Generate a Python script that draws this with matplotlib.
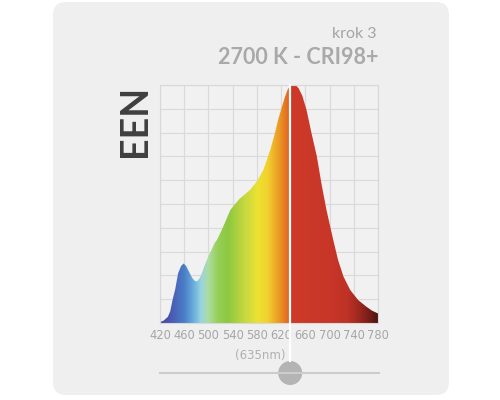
import numpy as np
import matplotlib.pyplot as plt
from matplotlib.colors import LinearSegmentedColormap
from matplotlib.patches import Polygon, FancyBboxPatch, Circle

plt.rcParams['font.family'] = ['Lato', 'DejaVu Sans']

# spectrum (nm, relative intensity)
wavelength = [420, 426, 433, 437, 441, 445, 450, 455, 459, 463, 467, 473, 477, 481,
              486, 490, 494, 500, 505, 510, 514, 520, 527, 536, 544, 552, 560, 569,
              580, 591, 602, 609, 615, 621, 626, 631, 635, 641, 645, 649, 655, 662,
              670, 679, 687, 695, 706, 714, 723, 734, 747, 761, 770, 780]
intensity = [0.004, 0.01, 0.026, 0.05, 0.10, 0.14, 0.21, 0.24, 0.25, 0.24, 0.22, 0.19, 0.178, 0.174,
             0.19, 0.215, 0.244, 0.28, 0.307, 0.335, 0.349, 0.38, 0.42, 0.474, 0.50, 0.523, 0.54, 0.56,
             0.595, 0.645, 0.727, 0.79, 0.853, 0.905, 0.948, 0.982, 0.996, 1.0, 0.997, 0.986, 0.955, 0.895,
             0.80, 0.70, 0.58, 0.474, 0.35, 0.265, 0.195, 0.139, 0.097, 0.068, 0.052, 0.04]

ticks = [420, 460, 500, 540, 580, 620, 660, 700, 740, 780]
peak_nm = 635

# colour stops along the spectrum
stop_nm = [420, 440, 460, 475, 487, 500, 515, 532, 560, 582, 598, 620, 634, 635.5, 700, 730, 750, 765, 780]
stop_colors = ['#4a44a2', '#4a5db4', '#4a80c8', '#6aaedc', '#98d4e2', '#addca0', '#96d058',
               '#8cc840', '#c8d840', '#ece232', '#f2d02e', '#e99022', '#e06024', '#cd3a29',
               '#c83628', '#bf3226', '#9c2820', '#7a1e18', '#4e1410']

fig = plt.figure(figsize=(5, 4), dpi=100)
fig.patch.set_facecolor('white')

# background layer in pixel coordinates
bg = fig.add_axes([0, 0, 1, 1])
bg.set_xlim(0, 500)
bg.set_ylim(400, 0)
bg.axis('off')
bg.add_patch(FancyBboxPatch((53, 2), 396, 393, boxstyle="round,pad=0,rounding_size=13",
                            facecolor='#efefef', edgecolor='none'))

bg.text(377, 34, 'krok 3', ha='right', va='center', fontsize=11.5, color='#a4a4a4')
bg.text(378, 58, '2700 K - CRI98+', ha='right', va='center', fontsize=15.5,
        fontweight='bold', color='#a9a9a9')
bg.text(135, 121, 'EEN', rotation=90, ha='center', va='center', fontsize=27,
        fontweight='bold', color='#3f3f3f')

# main spectrum axes
left, bottom, width, height = 0.32, 0.1925, 0.436, 0.595
ax = fig.add_axes([left, bottom, width, height])
ax.set_facecolor('#f1f1f1')
ax.set_xlim(ticks[0], ticks[-1])
ax.set_ylim(0, 1.0)
ax.set_xticks(ticks)
ax.set_xticklabels([str(t) for t in ticks], family='DejaVu Sans')
ax.set_yticks(np.linspace(0, 1, 11))
ax.set_yticklabels([])
ax.grid(True, color='#dadada', lw=0.8)
ax.set_axisbelow(True)
ax.tick_params(length=0, labelsize=8.3, labelcolor='#a6a6a6', pad=4)
for s in ax.spines.values():
    s.set_color('#d8d8d8')
    s.set_linewidth(0.8)

cmap = LinearSegmentedColormap.from_list(
    'spec', list(zip([(v - ticks[0]) / (ticks[-1] - ticks[0]) for v in stop_nm], stop_colors)))
grad = np.linspace(0, 1, 1200).reshape(1, -1)
im = ax.imshow(grad, cmap=cmap, aspect='auto', extent=[ticks[0], ticks[-1], 0, 1],
               interpolation='bilinear', zorder=2)
poly = Polygon(np.column_stack([[wavelength[0]] + wavelength + [wavelength[-1]],
                                [0] + intensity + [0]]),
               closed=True, facecolor='none', edgecolor='none')
ax.add_patch(poly)
im.set_clip_path(poly)

# marker line and slider
ax.plot([peak_nm, peak_nm], [1.0, -0.16], color='white', lw=1.6, clip_on=False, zorder=5)
px = 500 * (left + (peak_nm - ticks[0]) / (ticks[-1] - ticks[0]) * width)
bg.text(px - 5, 355, f'({peak_nm}nm)', ha='right', va='center', fontsize=8.5,
        family='DejaVu Sans', color='#b0b0b0')
bg.plot([160, 379], [373, 373], color='#cccccc', lw=1.5)
bg.add_patch(Circle((px, 373), 12, facecolor='#b4b4b4', edgecolor='none'))

plt.savefig('out.png', dpi=100)
